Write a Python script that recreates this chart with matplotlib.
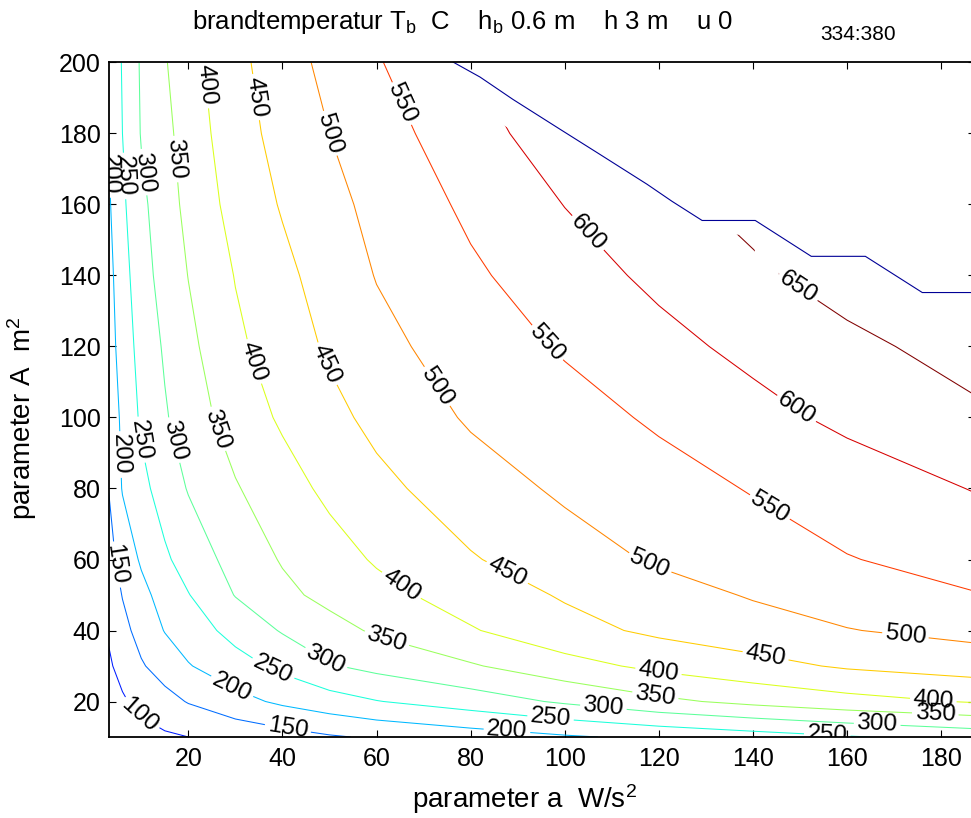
import numpy as np
import matplotlib
matplotlib.use("Agg")
import matplotlib.pyplot as plt
from matplotlib.patches import Polygon

plt.rcParams['font.family'] = ['Liberation Sans', 'DejaVu Sans']
plt.rcParams['mathtext.fontset'] = 'custom'
plt.rcParams['mathtext.rm'] = 'Liberation Sans'
plt.rcParams['mathtext.it'] = 'Liberation Sans:italic'

# ---- data ----
a_vals = [3, 6, 10, 15, 20, 30, 40, 50, 60, 80, 100, 120, 140, 160, 187]
A_vals = [10, 20, 30, 40, 50, 60, 80, 100, 120, 140, 160, 180, 200]

T_A10 = [70, 77, 85, 93, 100, 115, 130, 145, 156, 175, 194, 211, 228, 246, 268]
T_A20 = [82, 95, 112, 133, 153, 184, 209, 229, 248, 275, 307, 339, 363, 383, 404]
T_A30 = [94, 113, 145, 172, 197, 230, 262, 296, 314, 345, 382, 412, 434, 456, 472]
T_A40 = [104, 135, 168, 202, 224, 267, 304, 332, 357, 396, 433, 460, 479, 498, 515]
T_A50 = [116, 152, 186, 219, 248, 302, 338, 364, 385, 422, 455, 480, 504, 523, 548]
T_A60 = [130, 170, 206, 242, 271, 318, 354, 380, 405, 446, 478, 506, 527, 548, 566]
T_A80 = [150, 203, 236, 272, 303, 346, 380, 411, 437, 477, 508, 531, 553, 573, 602]
T_A100 = [165, 210, 258, 295, 325, 372, 407, 436, 463, 506, 531, 557, 584, 611, 640]
T_A120 = [176, 222, 268, 306, 338, 390, 425, 457, 486, 524, 555, 585, 613, 637, 671]
T_A140 = [183, 230, 280, 319, 351, 402, 438, 471, 502, 542, 578, 611, 641, 672, 705]
T_A160 = [192, 241, 289, 328, 363, 418, 454, 486, 513, 560, 601, 635, 665, 695, 730]
T_A180 = [201, 250, 303, 336, 373, 429, 467, 500, 529, 580, 628, 665, 700, 730, 770]
T_A200 = [204, 254, 306, 346, 382, 436, 478, 514, 546, 600, 650, 690, 720, 750, 790]

levels = [100, 150, 200, 250, 300, 350, 400, 450, 500, 550, 600, 650]

# limit curve (upper right)
boundary_a = [76.3, 82.0, 89.0, 99.0, 107.5, 117.5, 122.8, 129.2, 140.5, 152.4, 163.9, 176.0, 188.0]
boundary_A = [200.1, 195.9, 189.6, 181.2, 174.1, 165.7, 160.9, 155.5, 155.5, 145.4, 145.4, 135.2, 135.2]

# edge of the computed (valid) cells just below the limit curve
valid_a = [60.0, 76.3, 82.0, 89.0, 99.0, 107.5, 117.5, 122.8, 129.2, 140.4, 140.4, 145.5, 145.5, 152.4, 163.9, 176.0, 260.0]
valid_A = [203.2, 191.1, 186.9, 180.6, 172.2, 165.1, 156.7, 151.9, 151.5, 151.5, 138.0, 138.0, 146.4, 136.4, 136.4, 126.2, 126.2]

# ---- figure ----
W, H = 971, 818
fig = plt.figure(figsize=(W / 100, H / 100), dpi=100)
ax_l, ax_r, ax_t, ax_b = 109, 975, 62.5, 737
ax = fig.add_axes([ax_l / W, 1 - ax_b / H, (ax_r - ax_l) / W, (ax_b - ax_t) / H])

T = np.array([T_A10, T_A20, T_A30, T_A40, T_A50, T_A60, T_A80, T_A100,
              T_A120, T_A140, T_A160, T_A180, T_A200], dtype=float)
X, Y = np.meshgrid(a_vals, A_vals)

colors = [plt.cm.jet(l / 650.0) for l in levels]
cs = ax.contour(X, Y, T, levels=levels, colors=colors, linewidths=0.75)

clip_pts = [(-20, -20), (260, -20)]
clip_pts += list(zip(valid_a[::-1], valid_A[::-1]))
clip_pts += [(40, 260), (-20, 260)]
clip_patch = Polygon(clip_pts, closed=True, transform=ax.transData, facecolor='none', edgecolor='none')
ax.add_patch(clip_patch)
cs.set_clip_path(clip_patch)

ax.plot(boundary_a, boundary_A, color=plt.cm.jet(0.02), linewidth=0.8)

label_pos = [
    (9.7, 16.1),
    (4.0, 58.4), (41, 11.0),
    (3.5, 168.5), (4.0, 89.5), (28.9, 23.2), (87.7, 11.3),
    (5.9, 168), (9.7, 93.7), (37.4, 27.4), (96.9, 14.2), (155.8, 10.5),
    (9.8, 169), (17.2, 93.7), (50.1, 33.9), (108.2, 18.1), (166.4, 13.3),
    (16.5, 172.7), (25.7, 96.5), (61.8, 35.9), (119.2, 21.2), (178.7, 14.7),
    (22.8, 193.5), (32.0, 114.9), (64.6, 51.4), (119.8, 27.4), (178.3, 19.8),
    (33.1, 190.0), (49.1, 114.9), (87.3, 55.1), (142.6, 32.2),
    (49.1, 179.7), (73.5, 109.3), (118.1, 59.0), (172.3, 37.3),
    (65.0, 188.2), (95.8, 120.5), (142.6, 72.6),
    (103.3, 150.0), (149.0, 102.0),
    (147.9, 133.2),
]
ax.clabel(cs, levels, manual=label_pos, inline=True, fontsize=17.5, colors='k', fmt='%d', inline_spacing=3)

ax.set_xlim(3.14, 187.2)
ax.set_ylim(10, 200)
ax.set_xticks([20, 40, 60, 80, 100, 120, 140, 160, 180])
ax.set_yticks([20, 40, 60, 80, 100, 120, 140, 160, 180, 200])
ax.tick_params(direction='in', length=5, width=0.8, labelsize=18, top=True, right=True)
ax.tick_params(axis='x', pad=7)
ax.tick_params(axis='y', pad=6)
for s in ax.spines.values():
    s.set_linewidth(1.3)

fig.text(463 / W, 1 - 29 / H, r'brandtemperatur T$_\mathrm{b}$  C    h$_\mathrm{b}$ 0.6 m    h 3 m    u 0',
         ha='center', va='baseline', fontsize=18.5)
fig.text(858 / W, 1 - 40 / H, '334:380', ha='center', va='baseline', fontsize=15)
fig.text(524 / W, 1 - 808 / H, r'parameter a  W/s$^2$', ha='center', va='baseline', fontsize=20)
fig.text(22 / W, 1 - 418 / H, r'parameter A  m$^2$', ha='center', va='center', fontsize=20, rotation=90)

fig.savefig('out.png', dpi=100)
